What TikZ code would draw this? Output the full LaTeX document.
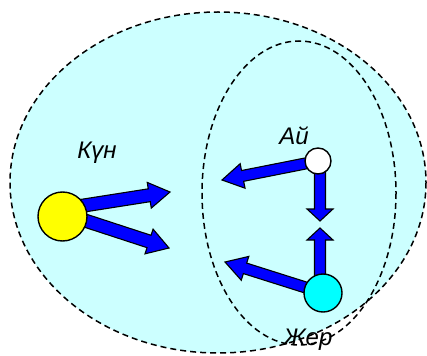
\documentclass[tikz,border=0pt]{standalone}
\usepackage{fontspec}
\setmainfont{Liberation Sans}
\usetikzlibrary{calc}
\definecolor{bgcyan}{RGB}{204,255,255}
\definecolor{earthcyan}{RGB}{0,255,255}
\definecolor{sunyellow}{RGB}{255,255,0}
\definecolor{arrowblue}{RGB}{0,0,255}
\newcommand\myblockarrow[5]{%
  \path ($(#2)!#5!(#1)$) coordinate (tmpB);
  \draw[blockarrowstyle] ($(#1)!#3!90:(#2)$) -- ($(tmpB)!#3!-90:(#1)$)
    -- ($(tmpB)!#4!-90:(#1)$) -- (#2) -- ($(tmpB)!#4!90:(#1)$)
    -- ($(tmpB)!#3!90:(#1)$) -- ($(#1)!#3!-90:(#2)$) -- cycle;
}
\begin{document}
\begin{tikzpicture}[x=1pt,y=-1pt,
  blockarrowstyle/.style={fill=arrowblue,draw=black,line width=1.1pt,line join=miter},
  orbit/.style={draw=black,dash pattern=on 6pt off 4pt,line width=1.5pt},
  body/.style={circle,draw=black,line width=1.4pt,inner sep=0pt},
  lbl/.style={font=\fontsize{24}{27}\selectfont\itshape,inner sep=0pt,anchor=base}]
\useasboundingbox (0,0) rectangle (427,355);
% regions
\path[orbit,fill=bgcyan] (218,182.5) ellipse [x radius=208,y radius=170.5];
\path[orbit] (299,193) ellipse [x radius=97,y radius=152];
% centres
\coordinate (sunc) at (62.5,216.5);
\coordinate (moonc) at (318,161);
\coordinate (earthc) at (323,293);
\coordinate (sunA) at (68,208);
\coordinate (sunB) at (68,215);
\coordinate (moonD) at (320,161);
\coordinate (earthU) at (320,293);
% tips
\coordinate (tipSunA) at (170,192);
\coordinate (tipSunB) at (169,248);
\coordinate (tipMoonL) at (222,180);
\coordinate (tipMoonD) at (320,221);
\coordinate (tipEarthU) at (320,228);
\coordinate (tipEarthL) at (225,262);
% arrows
\myblockarrow{sunA}{tipSunA}{6.5pt}{13pt}{21pt}
\myblockarrow{sunB}{tipSunB}{6.5pt}{13pt}{21pt}
\myblockarrow{moonc}{tipMoonL}{5.5pt}{12.5pt}{21pt}
\myblockarrow{earthc}{tipEarthL}{5.5pt}{12.5pt}{21pt}
\myblockarrow{moonD}{tipMoonD}{5.5pt}{13pt}{12pt}
\myblockarrow{earthU}{tipEarthU}{5.5pt}{13pt}{12pt}
% bodies
\node[body,fill=sunyellow,minimum size=49pt] (sun) at (sunc) {};
\node[body,fill=white,minimum size=26pt] (moon) at (moonc) {};
\node[body,fill=earthcyan,minimum size=38pt] (earth) at (earthc) {};
% labels
\node[lbl] (sunlbl) at (97,159) {Күн};
\node[lbl] (moonlbl) at (294,145) {Ай};
\node[lbl] (earthlbl) at (308,345) {Жер};
\end{tikzpicture}
\end{document}
